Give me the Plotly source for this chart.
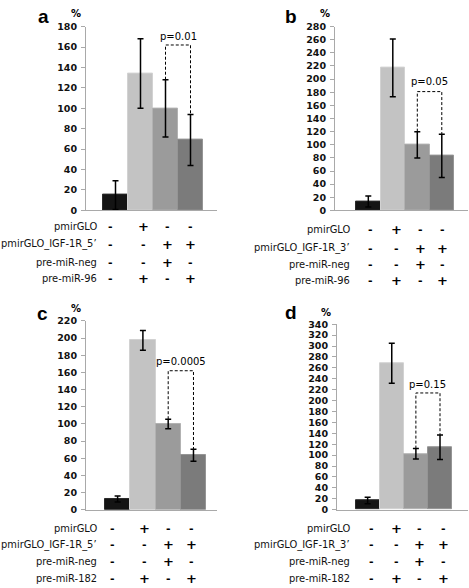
import plotly.graph_objects as go

W, H = 469, 588

# ---------------- data ----------------
panel_letters = ["a", "b", "c", "d"]
values_a = [15, 134, 100, 69]
errors_a = [14, 34, 28, 25]
values_b = [13.5, 217, 100, 83]
errors_b = [8.5, 44, 20, 33]
values_c = [12.6, 197.5, 100, 63.6]
errors_c = [3.5, 11.5, 5.5, 7]
values_d = [16.7, 268.5, 102.5, 114.5]
errors_d = [6, 36.5, 9.5, 22.5]

p_texts = ["p=0.01", "p=0.05", "p=0.0005", "p=0.15"]
p_heights = [162, 181, 162, 214]

y_max = [180, 280, 220, 340]

row_labels_a = ["pmirGLO", "pmirGLO_IGF-1R_5\u2019", "pre-miR-neg", "pre-miR-96"]
row_labels_b = ["pmirGLO", "pmirGLO_IGF-1R_3\u2019", "pre-miR-neg", "pre-miR-96"]
row_labels_c = ["pmirGLO", "pmirGLO_IGF-1R_5\u2019", "pre-miR-neg", "pre-miR-182"]
row_labels_d = ["pmirGLO", "pmirGLO_IGF-1R_3\u2019", "pre-miR-neg", "pre-miR-182"]

signs = [
    ["-", "+", "-", "-"],
    ["-", "-", "+", "+"],
    ["-", "-", "+", "-"],
    ["-", "+", "-", "+"],
]

bar_colors = ["#141414", "#c3c3c3", "#9b9b9b", "#7b7b7b"]
bar_edges = ["#2a2a2a", "#d2d2d2", "#b2b2b2", "#959595"]
categories = [0, 1, 2, 3]

values = [values_a, values_b, values_c, values_d]
errors = [errors_a, errors_b, errors_c, errors_d]
row_labels = [row_labels_a, row_labels_b, row_labels_c, row_labels_d]

# ---------------- layout geometry (pixels) ----------------
x_span = [(86, 217), (335, 468), (86, 217), (337, 468)]
y_span = [(208.3, 21), (208.3, 21), (513.3, 321), (513.3, 324.3)]
x_ranges = [[-1.18, 4.06], [-1.36, 4.07], [-1.25, 3.93], [-1.27, 4.16]]
letter_pos = [(43, 11), (291, 11), (42, 313), (291, 312)]
pct_pos = [(76, 8), (325, 8), (76, 308), (326, 312)]
p_text_y = [170, 196, 173, 229]
row_y = [[225, 243, 261, 278], [228, 247, 263, 280],
         [532, 549, 566, 583], [532, 549, 566, 583]]
label_right = [99, 352, 99, 352]
col_shift = [[-5, 3, 2, 0], [2, 4, 3, 1], [-5, 2, 0, -2], [4, 5, 4, 3]]

fig = go.Figure()
annotations = []
axis_grey = "#a9a9a9"

for i in range(4):
    xa = "x" if i == 0 else f"x{i+1}"
    ya = "y" if i == 0 else f"y{i+1}"
    xl = "xaxis" if i == 0 else f"xaxis{i+1}"
    yl = "yaxis" if i == 0 else f"yaxis{i+1}"

    fig.add_trace(go.Bar(
        x=categories, y=values[i], width=1,
        marker=dict(color=bar_colors, line=dict(width=1, color=bar_edges)),
        error_y=dict(type="data", array=errors[i], visible=True,
                     color="#000000", thickness=1.5, width=3),
        xaxis=xa, yaxis=ya, showlegend=False, hoverinfo="skip",
    ))

    top3 = values[i][2] + errors[i][2]
    top4 = values[i][3] + errors[i][3]
    h = p_heights[i]
    fig.add_trace(go.Scatter(
        x=[2, 2, 3, 3], y=[top3, h, h, top4], mode="lines",
        line=dict(color="#000000", width=1, dash="3px,2px"),
        xaxis=xa, yaxis=ya, showlegend=False, hoverinfo="skip",
    ))
    annotations.append(dict(
        x=2.5, y=p_text_y[i], xref=xa, yref=ya, text=p_texts[i],
        showarrow=False, xanchor="center", yanchor="middle",
        font=dict(family="DejaVu Sans", size=10, color="#000000"),
    ))

    x0, x1 = x_span[i]
    y0, y1 = y_span[i]
    fig.update_layout(**{
        xl: dict(domain=[x0 / W, x1 / W], range=x_ranges[i],
                 showline=True, linecolor=axis_grey, linewidth=1,
                 showticklabels=False, ticks="", showgrid=False,
                 zeroline=False, anchor=ya, fixedrange=True),
        yl: dict(domain=[1 - y0 / H, 1 - y1 / H], range=[0, y_max[i]],
                 dtick=20, tick0=0, showline=True, linecolor=axis_grey,
                 linewidth=1, ticks="outside", ticklen=4, tickcolor=axis_grey,
                 tickwidth=1, showgrid=False, zeroline=False, anchor=xa,
                 tickfont=dict(family="DejaVu Sans", size=9.5, color="#111111",
                               weight="bold"),
                 ticklabelstandoff=2, fixedrange=True),
    })

    lx, ly = letter_pos[i]
    annotations.append(dict(
        x=lx / W, y=1 - ly / H, xref="paper", yref="paper",
        text=panel_letters[i], showarrow=False, xanchor="center", yanchor="middle",
        font=dict(family="Liberation Sans", size=19, color="#000000", weight="bold"),
    ))
    px_, py_ = pct_pos[i]
    annotations.append(dict(
        x=px_ / W, y=1 - py_ / H, xref="paper", yref="paper",
        text="%", showarrow=False, xanchor="center", yanchor="middle",
        font=dict(family="DejaVu Sans", size=10, color="#000000", weight="bold"),
    ))

    for r in range(4):
        ry = 1 - row_y[i][r] / H
        annotations.append(dict(
            x=label_right[i] / W, y=ry, xref="paper", yref="paper",
            text=row_labels[i][r], showarrow=False, xanchor="right", yanchor="middle",
            font=dict(family="DejaVu Sans", size=9.9, color="#111111"),
        ))
        for c in range(4):
            s = signs[r][c]
            annotations.append(dict(
                x=categories[c], y=ry, xref=xa, yref="paper",
                text=s, showarrow=False, xanchor="center", yanchor="middle",
                xshift=col_shift[i][c],
                font=dict(family="DejaVu Sans", size=13 if s == "+" else 11,
                          color="#000000", weight="bold"),
            ))

fig.update_layout(
    width=W, height=H, margin=dict(l=0, r=0, t=0, b=0),
    paper_bgcolor="white", plot_bgcolor="white",
    bargap=0, showlegend=False, annotations=annotations,
)

fig.write_html(
    "out.html",
    config={"displayModeBar": False},
    post_script="document.body.style.margin='0';document.body.style.padding='0';"
                "document.body.style.overflow='hidden';",
)
